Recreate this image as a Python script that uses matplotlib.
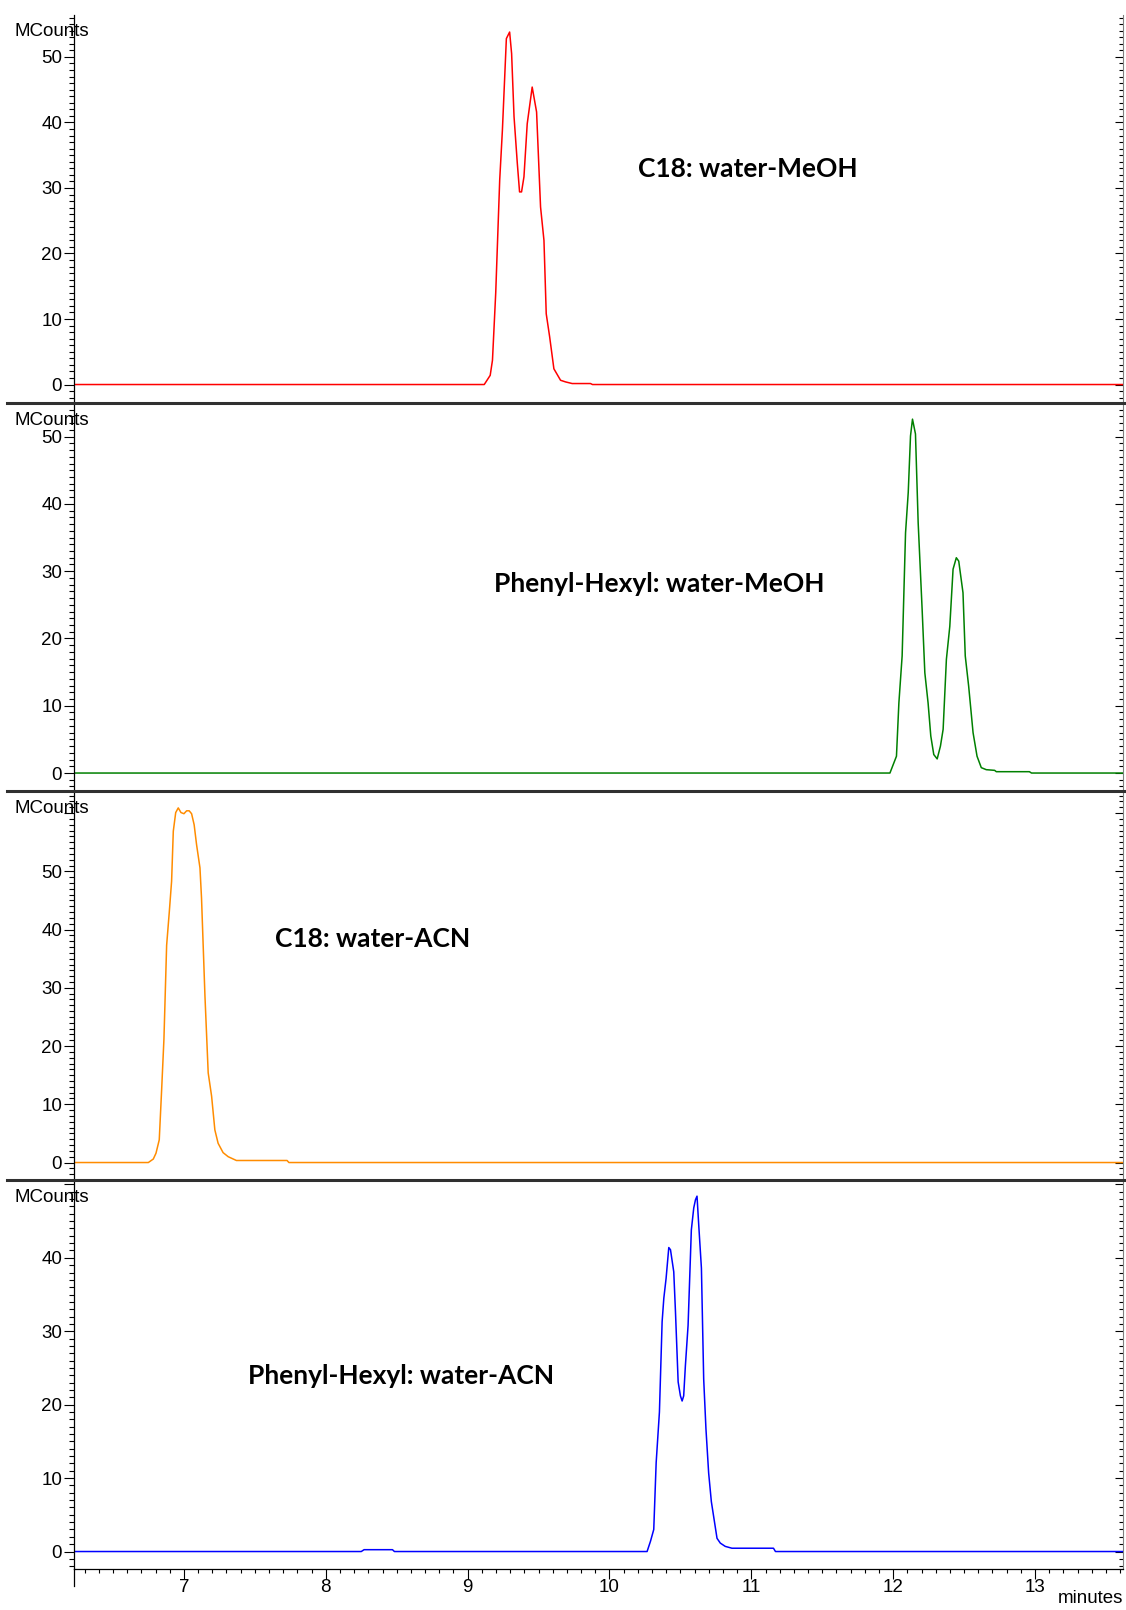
import matplotlib
matplotlib.use("Agg")
import matplotlib.pyplot as plt
from matplotlib.lines import Line2D
from matplotlib.ticker import MultipleLocator, FuncFormatter

# trace 1: C18 water-MeOH
t1 = [6.2, 9.117, 9.159, 9.175, 9.198, 9.226, 9.245, 9.273, 9.296, 9.31, 9.327, 9.35, 9.366,
      9.38, 9.397, 9.42, 9.455, 9.486, 9.514, 9.538, 9.554, 9.578, 9.608, 9.655, 9.69, 9.737,
      9.866, 9.88, 13.7]
y1 = [0, 0, 1.4, 3.7, 14.0, 31.2, 38.8, 52.8, 53.8, 50.5, 40.9, 33.8, 29.4,
      29.4, 31.7, 39.8, 45.4, 41.6, 27.1, 22.0, 10.8, 7.3, 2.4, 0.65, 0.4, 0.15,
      0.15, 0, 0]

# trace 2: Phenyl-Hexyl water-MeOH
t2 = [6.2, 11.977, 12.023, 12.04, 12.063, 12.087, 12.106, 12.122, 12.136, 12.157, 12.176, 12.204,
      12.223, 12.246, 12.265, 12.286, 12.31, 12.333, 12.352, 12.375, 12.399, 12.422, 12.445,
      12.462, 12.492, 12.508, 12.532, 12.563, 12.591, 12.621, 12.656, 12.715, 12.727, 12.96,
      12.975, 13.7]
y2 = [0, 0, 2.5, 10.4, 17.4, 35.7, 41.7, 50.1, 52.6, 50.4, 37.2, 24.3,
      14.9, 10.4, 5.5, 2.75, 2.1, 4.0, 6.5, 16.9, 21.8, 30.3, 32.0,
      31.5, 26.8, 17.4, 12.9, 6.0, 2.5, 0.8, 0.5, 0.4, 0.2, 0.2,
      0, 0]

# trace 3: C18 water-ACN
t3 = [6.2, 6.749, 6.784, 6.803, 6.826, 6.843, 6.859, 6.878, 6.897, 6.913, 6.925, 6.942, 6.96,
      6.979, 7.0, 7.019, 7.037, 7.054, 7.072, 7.089, 7.113, 7.124, 7.148, 7.171, 7.195, 7.218,
      7.241, 7.276, 7.312, 7.37, 7.727, 7.74, 13.7]
y3 = [0, 0, 0.6, 1.6, 3.9, 12.6, 21.2, 37.3, 43.1, 48.3, 56.9, 60.1, 60.9,
      60.1, 59.9, 60.4, 60.4, 59.9, 58.0, 54.6, 50.6, 45.4, 28.7, 15.4, 11.4, 5.6,
      3.3, 1.7, 1.0, 0.35, 0.35, 0, 0]

# trace 4: Phenyl-Hexyl water-ACN
t4 = [6.2, 8.25, 8.27, 8.47, 8.484, 10.265, 10.289, 10.312, 10.329, 10.352, 10.371, 10.383,
      10.399, 10.418, 10.43, 10.453, 10.465, 10.484, 10.5, 10.512, 10.523, 10.535, 10.554,
      10.577, 10.594, 10.606, 10.617, 10.629, 10.648, 10.664, 10.68, 10.699, 10.718, 10.734,
      10.758, 10.781, 10.816, 10.863, 11.156, 11.17, 13.7]
y4 = [0, 0, 0.25, 0.25, 0, 0, 1.4, 3.0, 12.1, 19.0, 31.3, 34.5,
      37.2, 41.4, 41.1, 38.1, 32.7, 23.1, 21.2, 20.5, 21.2, 25.3, 30.8,
      43.8, 46.8, 47.9, 48.4, 44.5, 38.6, 23.5, 16.7, 10.7, 6.8, 4.8,
      1.8, 1.15, 0.7, 0.45, 0.45, 0, 0]

times = [t1, t2, t3, t4]
values = [y1, y2, y3, y4]
colors = ["#ff0000", "#008000", "#ff8c00", "#0000ff"]
labels = ["C18: water-MeOH", "Phenyl-Hexyl: water-MeOH", "C18: water-ACN", "Phenyl-Hexyl: water-ACN"]
ylims = [(-2.82, 56.4), (-2.67, 55.0), (-3.0, 63.8), (-2.38, 50.6)]
max_label = [50, 50, 50, 40]   # highest y value that gets a number
xlim = (6.225, 13.62)

W, H = 1126, 1610
fig = plt.figure(figsize=(W / 100, H / 100), dpi=100)

# panel edges in pixels (top, bottom) and label centres in pixels
edges = [(15, 403), (403, 791), (791, 1180), (1180, 1569)]
label_px = [(748, 169), (659, 584), (373, 939), (401, 1376)]
left_px, right_px = 74, 1123

tick_font = {"family": "Liberation Sans", "size": 13.5}

for i in range(4):
    top, bot = edges[i]
    ax = fig.add_axes([left_px / W, 1 - bot / H, (right_px - left_px) / W, (bot - top) / H])
    ax.plot(times[i], values[i], color=colors[i], lw=1.1)
    ax.set_xlim(*xlim)
    ax.set_ylim(*ylims[i])

    lim = max_label[i]
    ax.yaxis.set_major_locator(MultipleLocator(10))
    ax.yaxis.set_minor_locator(MultipleLocator(1))
    ax.yaxis.set_major_formatter(FuncFormatter(lambda v, p, lim=lim: "%d" % v if v <= lim else ""))
    ax.tick_params(axis="y", which="major", direction="out", length=7.5, width=0.8, pad=1)
    ax.tick_params(axis="y", which="minor", direction="out", length=3.6, width=0.8)
    for lab in ax.get_yticklabels():
        lab.set_fontfamily(tick_font["family"])
        lab.set_fontsize(tick_font["size"])

    sec = ax.secondary_yaxis("right")
    sec.yaxis.set_major_locator(MultipleLocator(10))
    sec.yaxis.set_minor_locator(MultipleLocator(1))
    sec.tick_params(which="major", direction="in", length=6, width=0.8, labelright=False)
    sec.tick_params(which="minor", direction="in", length=3, width=0.8)
    sec.spines["right"].set_color("#808080")

    ax.spines["top"].set_visible(False)
    ax.spines["right"].set_visible(False)
    ax.spines["left"].set_linewidth(0.9)

    if i < 3:
        ax.spines["bottom"].set_visible(False)
        ax.tick_params(axis="x", which="both", bottom=False, labelbottom=False)
    else:
        ax.xaxis.set_major_locator(MultipleLocator(1))
        ax.xaxis.set_minor_locator(MultipleLocator(0.1))
        ax.tick_params(axis="x", which="major", direction="out", length=7.5, width=0.8, pad=0)
        ax.tick_params(axis="x", which="minor", direction="out", length=3.2, width=0.8)
        ax.spines["bottom"].set_linewidth(0.9)
        for lab in ax.get_xticklabels():
            lab.set_fontfamily(tick_font["family"])
            lab.set_fontsize(tick_font["size"])

    fig.text(label_px[i][0] / W, 1 - label_px[i][1] / H, labels[i], ha="center", va="center",
             fontsize=19, fontweight="bold", family="Lato")

    fig.text(14 / W, 1 - (top + 17) / H, "MCounts", ha="left", va="center",
             fontsize=tick_font["size"], family=tick_font["family"])

    # thick separator line between panels
    if i > 0:
        fig.add_artist(Line2D([7 / W, 1.0], [1 - top / H, 1 - top / H], color="#303030", lw=2.2))

# left spine running past the time axis
fig.add_artist(Line2D([left_px / W, left_px / W], [1 - 1569 / H, 1 - 1586 / H], color="black", lw=0.9))

fig.text(right_px / W, 1 - 1598 / H, "minutes", ha="right", va="center",
         fontsize=tick_font["size"], family=tick_font["family"])

fig.savefig("out.png", dpi=100)
